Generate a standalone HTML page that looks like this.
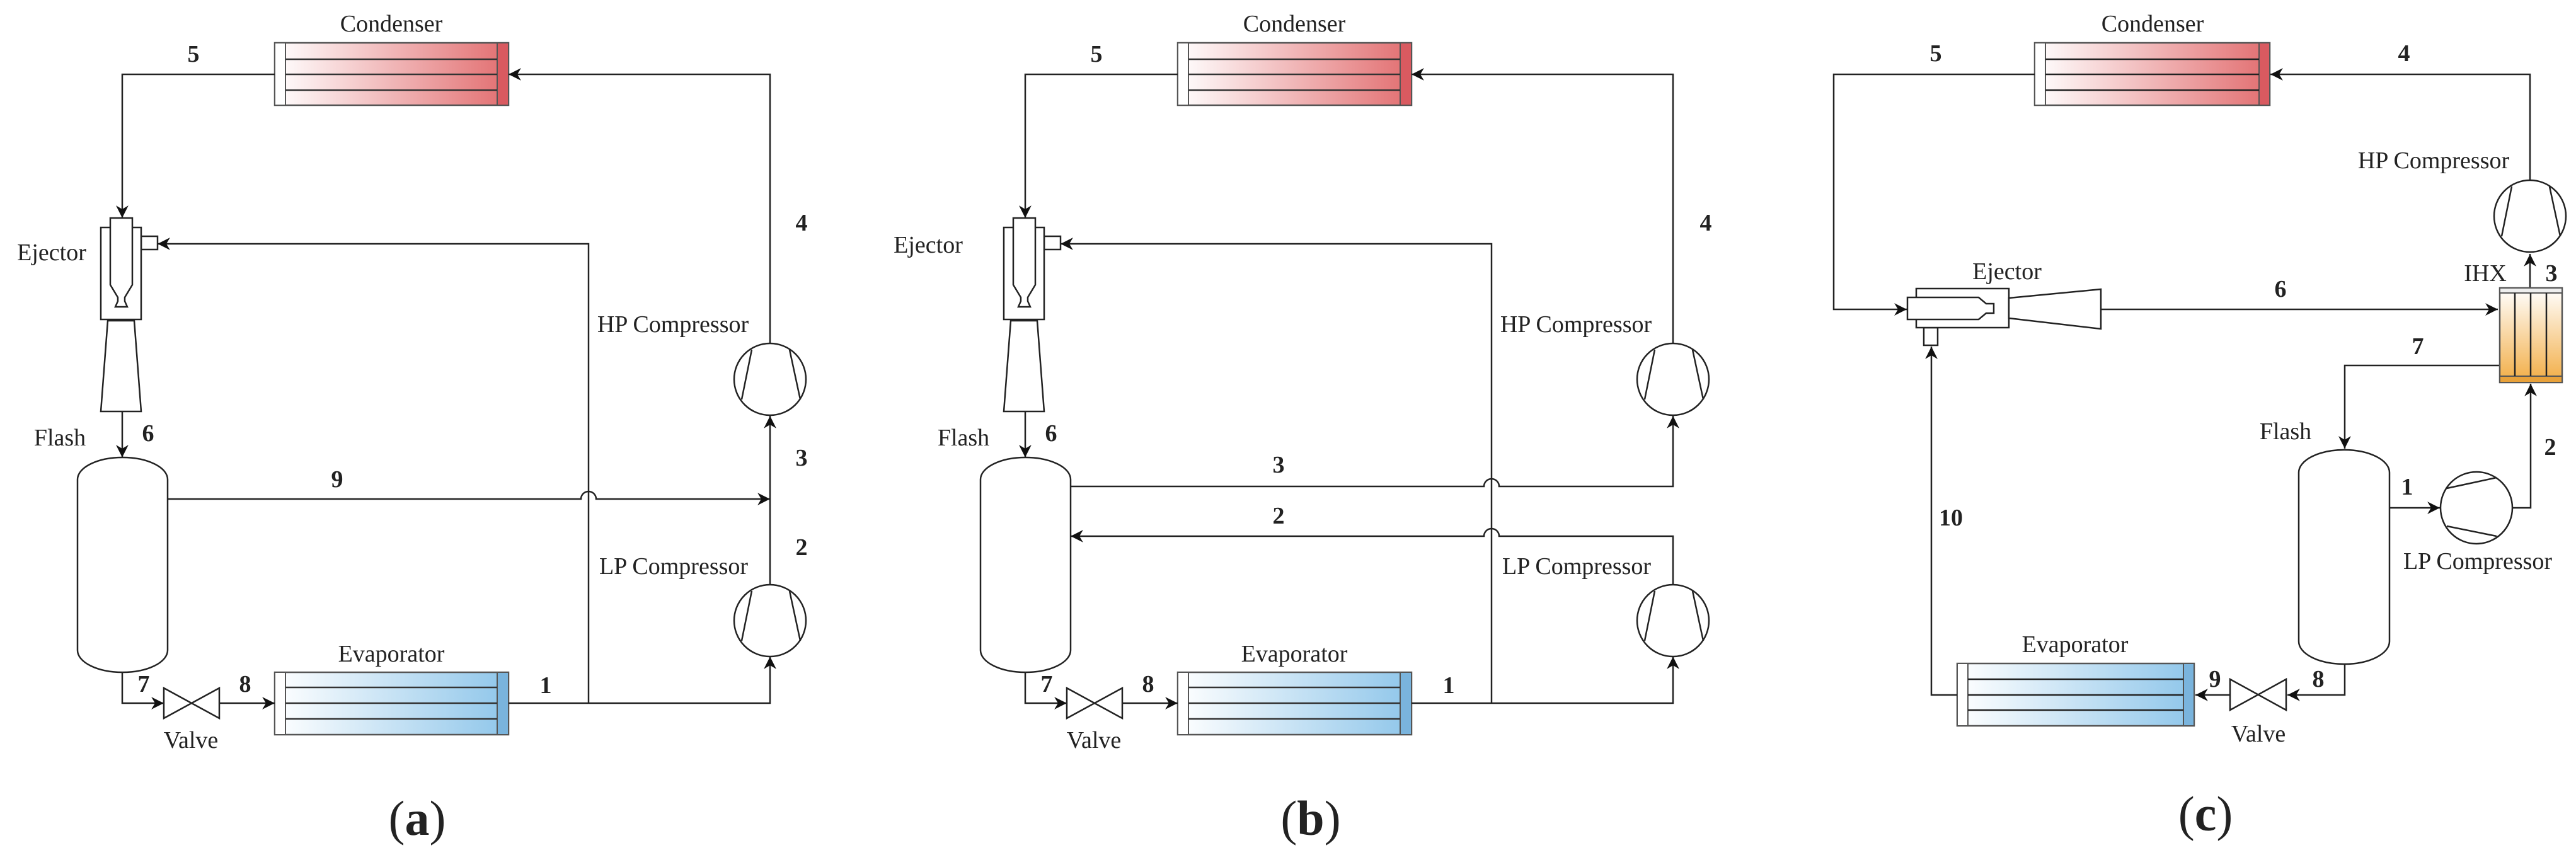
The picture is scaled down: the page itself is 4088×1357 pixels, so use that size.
<!DOCTYPE html>
<html><head><meta charset="utf-8"><style>
html,body{margin:0;padding:0;background:#fff;}
svg{display:block;}
text{font-family:"Liberation Serif",serif;fill:#222;}
.l{font-size:38px;}
.n{font-size:38px;font-weight:bold;}
.c{font-size:78px;}
</style></head><body>
<svg width="4088" height="1357" viewBox="0 0 4088 1357" xmlns="http://www.w3.org/2000/svg">
<defs>
<linearGradient id="gr" x1="0" x2="1" y1="0" y2="0"><stop offset="0" stop-color="#fff"/><stop offset="1" stop-color="#e26e70"/></linearGradient>
<linearGradient id="gb" x1="0" x2="1" y1="0" y2="0"><stop offset="0" stop-color="#fff"/><stop offset="1" stop-color="#8fc6ea"/></linearGradient>
<linearGradient id="go" x1="0" x2="0" y1="0" y2="1"><stop offset="0" stop-color="#fff"/><stop offset="1" stop-color="#f2ad45"/></linearGradient>
<marker id="ar" viewBox="0 0 10 10" refX="10" refY="5" markerWidth="9" markerHeight="9" markerUnits="userSpaceOnUse" orient="auto" style="overflow:visible">
<path d="M0,0 L10,5 L0,10 L3,5 Z" fill="#111" transform="scale(2.2) translate(-5.5,-2.7)"/>
</marker>
<g id="comp"><circle cx="0" cy="0" r="57" fill="#fff" stroke="#222" stroke-width="2.5"/><line x1="-29" y1="-47" x2="-45" y2="32" stroke="#222" stroke-width="2.5"/><line x1="31" y1="-47" x2="48" y2="32" stroke="#222" stroke-width="2.5"/></g>
<g id="hxr"><rect x="0" y="0" width="371" height="99" fill="url(#gr)" stroke="#555" stroke-width="2.5"/><rect x="0" y="0" width="17" height="99" fill="#fff" stroke="#555" stroke-width="2"/><rect x="353" y="0" width="18" height="99" fill="#d95a60" stroke="#555" stroke-width="2"/><g stroke="#333" stroke-width="2.5"><line x1="17" y1="26" x2="353" y2="26"/><line x1="17" y1="50" x2="353" y2="50"/><line x1="17" y1="75" x2="353" y2="75"/></g></g>
<g id="hxb"><rect x="0" y="0" width="371" height="99" fill="url(#gb)" stroke="#555" stroke-width="2.5"/><rect x="0" y="0" width="17" height="99" fill="#fff" stroke="#555" stroke-width="2"/><rect x="353" y="0" width="18" height="99" fill="#7ab4dd" stroke="#555" stroke-width="2"/><g stroke="#333" stroke-width="2.5"><line x1="17" y1="24" x2="353" y2="24"/><line x1="17" y1="49" x2="353" y2="49"/><line x1="17" y1="74" x2="353" y2="74"/></g></g>
<g id="valve"><path d="M0,0 L88,48 L88,0 L0,48 Z" fill="#fff" stroke="#222" stroke-width="2.5"/></g>
<g id="ejv" fill="#fff" stroke="#222" stroke-width="2.5"><rect x="224" y="375" width="26" height="21"/><rect x="160" y="361" width="64" height="146"/><path d="M175,346 L210,346 L210,452 L198,472 L198,478 L202,487 L183,487 L187,478 L187,472 L175,452 Z"/><path d="M171,509 L213,509 L224,653 L160,653 Z"/></g>
<g id="flash"><path d="M123,761 A71.5,35 0 0 1 266,761 L266,1032 A71.5,35 0 0 1 123,1032 Z" fill="#fff" stroke="#222" stroke-width="2.5"/></g>
</defs>

<g id="base" fill="none" stroke="#222" stroke-width="2.5">
<use href="#hxr" x="436" y="68"/>
<use href="#hxb" x="436" y="1067"/>
<path d="M436,118 L194,118 L194,346" marker-end="url(#ar)"/>
<path d="M194,653 L194,726" marker-end="url(#ar)"/>
<use href="#ejv"/>
<use href="#flash"/>
<path d="M194,1067 L194,1116 L260,1116" marker-end="url(#ar)"/>
<use href="#valve" x="260" y="1092"/>
<path d="M348,1116 L436,1116" marker-end="url(#ar)"/>
<path d="M934,1116 L934,387 L250,387" marker-end="url(#ar)"/>
<path d="M1222,544 L1222,118 L807,118" marker-end="url(#ar)"/>
<path d="M807,1116 L1222,1116 L1222,1042" marker-end="url(#ar)"/>
<use href="#comp" x="1222" y="602"/>
<use href="#comp" x="1222" y="985"/>
</g>

<g fill="none" stroke="#222" stroke-width="2.5">
<path d="M1222,928 L1222,660" marker-end="url(#ar)"/>
<path d="M266,792 L922,792 A12,12 0 0 1 946,792 L1222,792" marker-end="url(#ar)"/>
</g>
<g>
<text class="l" x="621" y="50" text-anchor="middle">Condenser</text>
<text class="l" x="621" y="1050" text-anchor="middle">Evaporator</text>
<text class="l" x="82" y="413" text-anchor="middle">Ejector</text>
<text class="l" x="95" y="707" text-anchor="middle">Flash</text>
<text class="l" x="303" y="1187" text-anchor="middle">Valve</text>
<text class="l" x="1068" y="527" text-anchor="middle">HP Compressor</text>
<text class="l" x="1069" y="911" text-anchor="middle">LP Compressor</text>
<text class="n" x="307" y="98" text-anchor="middle">5</text>
<text class="n" x="1272" y="366" text-anchor="middle">4</text>
<text class="n" x="235" y="700" text-anchor="middle">6</text>
<text class="n" x="535" y="773" text-anchor="middle">9</text>
<text class="n" x="1272" y="739" text-anchor="middle">3</text>
<text class="n" x="1272" y="881" text-anchor="middle">2</text>
<text class="n" x="866" y="1100" text-anchor="middle">1</text>
<text class="n" x="228" y="1098" text-anchor="middle">7</text>
<text class="n" x="389" y="1098" text-anchor="middle">8</text>
<text class="c" x="662" y="1325" text-anchor="middle">(<tspan font-weight="bold">a</tspan>)</text>
</g>

<g transform="translate(1433,0)">
<use href="#base"/>
<g fill="none" stroke="#222" stroke-width="2.5">
<path d="M266,772 L922,772 A12,12 0 0 1 946,772 L1222,772 L1222,660" marker-end="url(#ar)"/>
<path d="M1222,928 L1222,851 L946,851 A12,12 0 0 0 922,851 L266,851" marker-end="url(#ar)"/>
</g>
<text class="l" x="621" y="50" text-anchor="middle">Condenser</text>
<text class="l" x="621" y="1050" text-anchor="middle">Evaporator</text>
<text class="l" x="40" y="401" text-anchor="middle">Ejector</text>
<text class="l" x="96" y="707" text-anchor="middle">Flash</text>
<text class="l" x="303" y="1187" text-anchor="middle">Valve</text>
<text class="l" x="1068" y="527" text-anchor="middle">HP Compressor</text>
<text class="l" x="1069" y="911" text-anchor="middle">LP Compressor</text>
<text class="n" x="307" y="98" text-anchor="middle">5</text>
<text class="n" x="1274" y="366" text-anchor="middle">4</text>
<text class="n" x="235" y="700" text-anchor="middle">6</text>
<text class="n" x="596" y="750" text-anchor="middle">3</text>
<text class="n" x="596" y="831" text-anchor="middle">2</text>
<text class="n" x="866" y="1100" text-anchor="middle">1</text>
<text class="n" x="228" y="1098" text-anchor="middle">7</text>
<text class="n" x="389" y="1098" text-anchor="middle">8</text>
<text class="c" x="647" y="1325" text-anchor="middle">(<tspan font-weight="bold">b</tspan>)</text>
</g>

<!-- (c) -->
<g fill="none" stroke="#222" stroke-width="2.5">
<rect x="3229" y="68" width="373" height="99" fill="url(#gr)" stroke="#555"/>
<rect x="3229" y="68" width="17" height="99" fill="#fff" stroke="#555" stroke-width="2"/>
<rect x="3585" y="68" width="17" height="99" fill="#d95a60" stroke="#555" stroke-width="2"/>
<line x1="3246" y1="94" x2="3585" y2="94"/><line x1="3246" y1="118" x2="3585" y2="118"/><line x1="3246" y1="143" x2="3585" y2="143"/>
<rect x="3106" y="1053" width="376" height="99" fill="url(#gb)" stroke="#555"/>
<rect x="3106" y="1053" width="17" height="99" fill="#fff" stroke="#555" stroke-width="2"/>
<rect x="3465" y="1053" width="17" height="99" fill="#7ab4dd" stroke="#555" stroke-width="2"/>
<line x1="3123" y1="1078" x2="3465" y2="1078"/><line x1="3123" y1="1103" x2="3465" y2="1103"/><line x1="3123" y1="1127" x2="3465" y2="1127"/>
<path d="M3229,118 L2910,118 L2910,491 L3026,491" marker-end="url(#ar)"/>
<path d="M4015,286 L4015,118 L3603,118" marker-end="url(#ar)"/>
<path d="M4015,457 L4015,403" marker-end="url(#ar)"/>
<path d="M3334,491 L3964,491" marker-end="url(#ar)"/>
<path d="M3967,580 L3721,580 L3721,712" marker-end="url(#ar)"/>
<path d="M3792,806 L3872,806" marker-end="url(#ar)"/>
<path d="M3986,806 L4016,806 L4016,609" marker-end="url(#ar)"/>
<path d="M3721,1054 L3721,1103 L3630,1103" marker-end="url(#ar)"/>
<path d="M3539,1103 L3484,1103" marker-end="url(#ar)"/>
<path d="M3106,1103 L3065,1103 L3065,550" marker-end="url(#ar)"/>
<g fill="#fff">
<rect x="3053" y="520" width="22" height="28"/>
<rect x="3041" y="458" width="147" height="62"/>
<path d="M3027,472 L3140,472 L3152,482 L3164,482 L3164,497 L3152,497 L3140,507 L3027,507 Z"/>
<path d="M3188,473 L3334,459 L3334,522 L3188,505 Z"/>
</g>
<rect x="3967" y="457" width="99" height="150" fill="url(#go)" stroke="#555"/>
<rect x="3967" y="457" width="99" height="8" fill="#eee" stroke="#555" stroke-width="2"/>
<rect x="3967" y="597" width="99" height="10" fill="#e8a13a" stroke="#555" stroke-width="2"/>
<line x1="3991" y1="465" x2="3991" y2="597"/><line x1="4016" y1="465" x2="4016" y2="597"/><line x1="4041" y1="465" x2="4041" y2="597"/>
<path d="M3648,750 A72,36 0 0 1 3792,750 L3792,1018 A72,36 0 0 1 3648,1018 Z" fill="#fff"/>
<path d="M3539,1078 L3628,1127 L3628,1078 L3539,1127 Z" fill="#fff"/>
</g>
<use href="#comp" transform="translate(4015,343)"/>
<use href="#comp" transform="translate(3930,806) rotate(-90)"/>
<g>
<text class="l" x="3416" y="50" text-anchor="middle">Condenser</text>
<text class="l" x="3293" y="1035" text-anchor="middle">Evaporator</text>
<text class="l" x="3185" y="443" text-anchor="middle">Ejector</text>
<text class="l" x="3627" y="697" text-anchor="middle">Flash</text>
<text class="l" x="3584" y="1177" text-anchor="middle">Valve</text>
<text class="l" x="3862" y="267" text-anchor="middle">HP Compressor</text>
<text class="l" x="3932" y="903" text-anchor="middle">LP Compressor</text>
<text class="l" x="3944" y="446" text-anchor="middle">IHX</text>
<text class="n" x="3072" y="97" text-anchor="middle">5</text>
<text class="n" x="3815" y="97" text-anchor="middle">4</text>
<text class="n" x="4049" y="446" text-anchor="middle">3</text>
<text class="n" x="3619" y="471" text-anchor="middle">6</text>
<text class="n" x="3837" y="562" text-anchor="middle">7</text>
<text class="n" x="3820" y="785" text-anchor="middle">1</text>
<text class="n" x="4047" y="722" text-anchor="middle">2</text>
<text class="n" x="3679" y="1090" text-anchor="middle">8</text>
<text class="n" x="3515" y="1090" text-anchor="middle">9</text>
<text class="n" x="3096" y="834" text-anchor="middle">10</text>
<text class="c" x="3500" y="1318" text-anchor="middle">(<tspan font-weight="bold">c</tspan>)</text>
</g>
</svg>
</body></html>
